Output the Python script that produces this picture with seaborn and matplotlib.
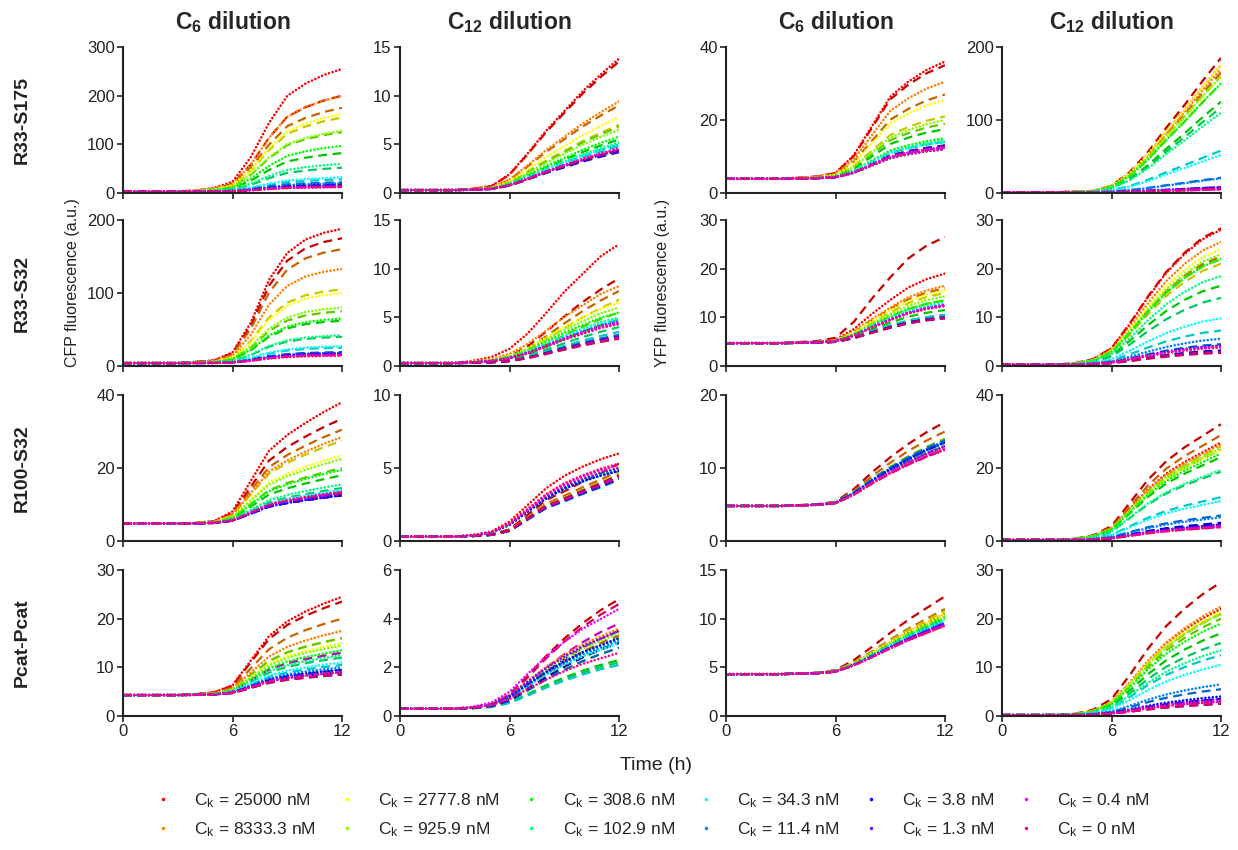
import numpy as np
import pandas as pd
import seaborn as sns
import matplotlib
matplotlib.use("Agg")
import matplotlib.pyplot as plt
import colorsys
from matplotlib.lines import Line2D

# ---------------- data ----------------
time_h = [0, 1, 2, 3, 4, 5, 6, 7, 8, 9, 10, 11, 12]
conc_labels = ["25000", "8333.3", "2777.8", "925.9", "308.6", "102.9",
               "34.3", "11.4", "3.8", "1.3", "0.4", "0"]
row_labels = ["R33-S175", "R33-S32", "R100-S32", "Pcat-Pcat"]
col_titles = [r"C$_{\mathbf{6}}$ dilution", r"C$_{\mathbf{12}}$ dilution",
              r"C$_{\mathbf{6}}$ dilution", r"C$_{\mathbf{12}}$ dilution"]
xticks = [0, 6, 12]

# Row 1: R33-S175
r33s175_c6_cfp_base = 3.0
r33s175_c6_cfp_profile = [0, 0, 0, 0, 0.01, 0.03, 0.08, 0.28, 0.56, 0.78, 0.88, 0.95, 1.0]
r33s175_c6_cfp_dotted = [255, 200, 162, 128, 97, 60, 32, 20, 16, 14, 13, 12]
r33s175_c6_cfp_dashed = [200, 175, 155, 125, 82, 52, 28, 22, 18, 16, 14, 13]
r33s175_c6_cfp_yticks = [0, 100, 200, 300]

r33s175_c12_cfp_base = 0.3
r33s175_c12_cfp_profile = [0, 0, 0, 0, 0.01, 0.03, 0.12, 0.28, 0.45, 0.60, 0.75, 0.88, 1.0]
r33s175_c12_cfp_dotted = [13.8, 9.4, 7.8, 6.5, 5.8, 5.2, 5.0, 4.5, 4.4, 4.5, 4.6, 4.5]
r33s175_c12_cfp_dashed = [13.5, 9.0, 7.0, 6.8, 5.5, 5.0, 4.8, 4.3, 4.2, 4.3, 4.4, 4.4]
r33s175_c12_cfp_yticks = [0, 5, 10, 15]

r33s175_c6_yfp_base = 3.9
r33s175_c6_yfp_profile = [0, 0, 0, 0, 0.01, 0.02, 0.05, 0.20, 0.45, 0.70, 0.83, 0.93, 1.0]
r33s175_c6_yfp_dotted = [36, 30.5, 25.5, 20, 15, 14.5, 14, 12.5, 12, 12.5, 12.5, 12]
r33s175_c6_yfp_dashed = [35, 27, 21, 19, 17.5, 14, 13, 13, 12.5, 13, 12.5, 12.5]
r33s175_c6_yfp_yticks = [0, 20, 40]

r33s175_c12_yfp_base = 1.0
r33s175_c12_yfp_profile = [0, 0, 0, 0, 0.005, 0.01, 0.05, 0.15, 0.30, 0.48, 0.65, 0.83, 1.0]
r33s175_c12_yfp_dotted = [175, 170, 175, 160, 150, 110, 52, 20, 8, 7, 5, 5]
r33s175_c12_yfp_dashed = [185, 165, 160, 150, 125, 117, 58, 21, 7, 8, 6, 5]
r33s175_c12_yfp_yticks = [0, 100, 200]

# Row 2: R33-S32
r33s32_c6_cfp_base = 4.0
r33s32_c6_cfp_profile = [0, 0, 0, 0, 0.01, 0.02, 0.08, 0.30, 0.62, 0.82, 0.92, 0.97, 1.0]
r33s32_c6_cfp_dotted = [188, 133, 100, 80, 65, 42, 27, 18, 17, 16, 15, 14]
r33s32_c6_cfp_dashed = [175, 160, 105, 75, 62, 40, 25, 19, 18, 18, 16, 15]
r33s32_c6_cfp_yticks = [0, 100, 200]

r33s32_c12_cfp_base = 0.3
r33s32_c12_cfp_profile = [0, 0, 0, 0, 0.02, 0.05, 0.12, 0.25, 0.42, 0.60, 0.75, 0.90, 1.0]
r33s32_c12_cfp_dashed_profile = [0, 0, 0, 0, 0.01, 0.03, 0.08, 0.20, 0.37, 0.55, 0.72, 0.87, 1.0]
r33s32_c12_cfp_dotted = [12.5, 8.2, 6.5, 6.0, 5.5, 5.0, 4.8, 4.6, 4.5, 4.4, 4.5, 4.3]
r33s32_c12_cfp_dashed = [9.0, 7.7, 6.8, 5.5, 4.8, 4.0, 3.5, 3.2, 3.0, 3.0, 2.9, 2.8]
r33s32_c12_cfp_yticks = [0, 5, 10, 15]

r33s32_c6_yfp_base = 4.7
r33s32_c6_yfp_profile = [0, 0, 0, 0, 0.01, 0.02, 0.05, 0.20, 0.42, 0.62, 0.80, 0.92, 1.0]
r33s32_c6_yfp_dotted = [19, 16.5, 15.5, 14.3, 13.5, 13, 12.8, 12.5, 12.5, 12.5, 12.5, 12.3]
r33s32_c6_yfp_dashed = [26.5, 16, 15, 13.5, 11.5, 10.5, 10.5, 10, 10, 10, 9.8, 9.8]
r33s32_c6_yfp_yticks = [0, 10, 20, 30]

r33s32_c12_yfp_base = 0.3
r33s32_c12_yfp_profile = [0, 0, 0, 0, 0.01, 0.04, 0.12, 0.30, 0.50, 0.68, 0.82, 0.93, 1.0]
r33s32_c12_yfp_dotted = [28, 25.5, 24, 23, 22, 18.5, 9.8, 5.6, 4.2, 4.0, 4.0, 3.8]
r33s32_c12_yfp_dashed = [28.3, 22.5, 21, 22, 16.5, 14, 7.3, 4.5, 3.2, 3.0, 2.8, 2.7]
r33s32_c12_yfp_yticks = [0, 10, 20, 30]

# Row 3: R100-S32
r100s32_c6_cfp_base = 4.8
r100s32_c6_cfp_profile = [0, 0, 0, 0, 0.005, 0.02, 0.10, 0.35, 0.60, 0.73, 0.83, 0.92, 1.0]
r100s32_c6_cfp_dotted = [38, 28.5, 23.5, 22.5, 19.5, 15.5, 14, 13, 12.5, 13, 13.5, 13.5]
r100s32_c6_cfp_dashed = [33.5, 30.5, 27.5, 20, 18, 14.5, 13.5, 12.5, 12.5, 12.5, 13, 13]
r100s32_c6_cfp_yticks = [0, 20, 40]

r100s32_c12_cfp_base = 0.3
r100s32_c12_cfp_profile = [0, 0, 0, 0, 0.02, 0.06, 0.18, 0.38, 0.58, 0.73, 0.84, 0.93, 1.0]
r100s32_c12_cfp_dashed_profile = [0, 0, 0, 0, 0.01, 0.03, 0.10, 0.30, 0.50, 0.62, 0.75, 0.87, 1.0]
r100s32_c12_cfp_dotted = [6.0, 5.2, 5.0, 5.0, 4.9, 4.9, 4.8, 4.8, 4.8, 5.0, 5.2, 5.3]
r100s32_c12_cfp_dashed = [5.3, 4.8, 4.6, 4.5, 4.4, 4.3, 4.2, 4.2, 4.3, 4.3, 4.4, 4.5]
r100s32_c12_cfp_yticks = [0, 5, 10]

r100s32_c6_yfp_base = 4.8
r100s32_c6_yfp_profile = [0, 0, 0, 0, 0.01, 0.02, 0.05, 0.20, 0.40, 0.58, 0.74, 0.88, 1.0]
r100s32_c6_yfp_dotted = [12.8, 13, 13, 13, 13, 13.5, 13.5, 13.7, 13.5, 13, 12.7, 12.5]
r100s32_c6_yfp_dashed = [16.3, 15, 14, 14, 13.5, 13.5, 13.5, 13.8, 13.5, 13, 12.5, 12.5]
r100s32_c6_yfp_yticks = [0, 10, 20]

r100s32_c12_yfp_base = 0.3
r100s32_c12_yfp_profile = [0, 0, 0, 0, 0.01, 0.04, 0.12, 0.32, 0.52, 0.68, 0.80, 0.90, 1.0]
r100s32_c12_yfp_dotted = [27, 26.5, 25, 25.5, 24, 19.5, 11, 6.5, 4.5, 4.2, 4.0, 3.8]
r100s32_c12_yfp_dashed = [32, 29, 26, 25, 23, 19, 12, 7, 5, 4.5, 4.0, 3.8]
r100s32_c12_yfp_yticks = [0, 20, 40]

# Row 4: Pcat-Pcat
pcat_c6_cfp_base = 4.3
pcat_c6_cfp_profile = [0, 0, 0, 0, 0.01, 0.03, 0.10, 0.35, 0.60, 0.75, 0.85, 0.93, 1.0]
pcat_c6_cfp_dotted = [24.5, 17.5, 15, 14.5, 13.5, 12.5, 11, 10, 9.5, 9, 9, 9]
pcat_c6_cfp_dashed = [23.5, 20, 16, 16, 13, 12, 10.5, 9.5, 9, 8.5, 13, 8.5]
pcat_c6_cfp_yticks = [0, 10, 20, 30]

pcat_c12_cfp_base = 0.3
pcat_c12_cfp_profile = [0, 0, 0, 0, 0.02, 0.06, 0.17, 0.35, 0.52, 0.67, 0.80, 0.90, 1.0]
pcat_c12_cfp_dashed_profile = [0, 0, 0, 0, 0.01, 0.04, 0.13, 0.30, 0.48, 0.64, 0.78, 0.90, 1.0]
pcat_c12_cfp_dotted = [3.5, 3.6, 3.5, 3.4, 3.2, 3.0, 3.0, 3.1, 3.2, 3.5, 4.4, 2.6]
pcat_c12_cfp_dashed = [4.8, 3.3, 3.0, 2.8, 2.3, 2.2, 2.1, 2.8, 3.0, 3.5, 3.8, 4.6]
pcat_c12_cfp_yticks = [0, 2, 4, 6]

pcat_c6_yfp_base = 4.3
pcat_c6_yfp_profile = [0, 0, 0, 0, 0.01, 0.02, 0.05, 0.18, 0.35, 0.53, 0.70, 0.85, 1.0]
pcat_c6_yfp_dotted = [10.5, 10.5, 10.5, 10.2, 10, 9.8, 9.8, 9.6, 9.5, 9.5, 9.3, 9.3]
pcat_c6_yfp_dashed = [12.3, 11, 10.8, 10.5, 10.2, 10, 10, 9.8, 9.5, 9.5, 9.5, 9.3]
pcat_c6_yfp_yticks = [0, 5, 10, 15]

pcat_c12_yfp_base = 0.2
pcat_c12_yfp_profile = [0, 0, 0, 0, 0.01, 0.04, 0.12, 0.30, 0.50, 0.67, 0.80, 0.91, 1.0]
pcat_c12_yfp_dotted = [22, 22.5, 21.5, 21, 19, 13.5, 10.5, 6.5, 4.0, 3.5, 3.0, 3.0]
pcat_c12_yfp_dashed = [27.5, 21, 21, 20, 17, 15, 12.5, 5.5, 3.5, 3.0, 2.5, 2.5]
pcat_c12_yfp_yticks = [0, 10, 20, 30]

g = globals()
panel_grid = [
    ["r33s175_c6_cfp", "r33s175_c12_cfp", "r33s175_c6_yfp", "r33s175_c12_yfp"],
    ["r33s32_c6_cfp", "r33s32_c12_cfp", "r33s32_c6_yfp", "r33s32_c12_yfp"],
    ["r100s32_c6_cfp", "r100s32_c12_cfp", "r100s32_c6_yfp", "r100s32_c12_yfp"],
    ["pcat_c6_cfp", "pcat_c12_cfp", "pcat_c6_yfp", "pcat_c12_yfp"],
]

# ---------------- long table ----------------
records = []
for r, row in enumerate(panel_grid):
    for c, key in enumerate(row):
        base = g[key + "_base"]
        for rep in ("dotted", "dashed"):
            prof = g.get(key + "_" + rep + "_profile", g[key + "_profile"])
            ends = g[key + "_" + rep]
            for ci, conc in enumerate(conc_labels):
                for t, p in zip(time_h, prof):
                    records.append(dict(panel=key, rep=rep, conc=conc, time=t,
                                        value=base + (ends[ci] - base) * p))
df = pd.DataFrame(records)

# ---------------- styling ----------------
sns.set_style("ticks")
plt.rcParams["font.family"] = ["Liberation Sans", "DejaVu Sans"]
plt.rcParams["mathtext.fontset"] = "custom"
plt.rcParams["mathtext.rm"] = "Liberation Sans"
plt.rcParams["mathtext.bf"] = "Liberation Sans:bold"
plt.rcParams["mathtext.it"] = "Liberation Sans:italic"

bright = [colorsys.hsv_to_rgb(i / 12, 1.0, 1.0) for i in range(12)]
dark = [colorsys.hsv_to_rgb(i / 12, 1.0, 0.78) for i in range(12)]
pal_bright = dict(zip(conc_labels, bright))
pal_dark = dict(zip(conc_labels, dark))

W, H = 1238, 850
fig = plt.figure(figsize=(W / 100, H / 100), dpi=100)
col_left = [123, 400, 726, 1002]
row_top = [47, 220, 395, 570]
aw, ah = 219, 146
ink = "#222222"

for r, row in enumerate(panel_grid):
    for c, key in enumerate(row):
        ax = fig.add_axes([col_left[c] / W, 1 - (row_top[r] + ah) / H, aw / W, ah / H])
        sub = df[df.panel == key]
        sns.lineplot(data=sub[sub.rep == "dashed"], x="time", y="value", hue="conc",
                     hue_order=conc_labels, palette=pal_dark, estimator=None,
                     errorbar=None, legend=False, ax=ax, linewidth=1.6)
        n0 = len(ax.lines)
        for ln in ax.lines:
            ln.set_dashes((4, 2.5))
        sns.lineplot(data=sub[sub.rep == "dotted"], x="time", y="value", hue="conc",
                     hue_order=conc_labels, palette=pal_bright, estimator=None,
                     errorbar=None, legend=False, ax=ax, linewidth=1.9)
        for ln in ax.lines[n0:]:
            ln.set_dashes((0.01, 1.4))
            ln.set_dash_capstyle("round")
        yt = g[key + "_yticks"]
        ax.set_xlim(0, 12)
        ax.set_ylim(0, yt[-1])
        ax.set_xticks(xticks)
        ax.set_yticks(yt)
        ax.set_xlabel("")
        ax.set_ylabel("")
        for s in ("top", "right"):
            ax.spines[s].set_visible(False)
        for s in ("left", "bottom"):
            ax.spines[s].set_color(ink)
            ax.spines[s].set_linewidth(1.5)
        ax.tick_params(axis="both", labelsize=12, colors=ink, length=4, width=1.2,
                       direction="out", pad=2)
        if r < 3:
            ax.tick_params(axis="x", labelbottom=False)
        if r == 0:
            ax.set_title(col_titles[c], fontsize=16.5, fontweight="bold", pad=13)
        if c == 0:
            fig.text(22 / W, 1 - (row_top[r] + ah / 2) / H, row_labels[r],
                     rotation=90, ha="center", va="center", fontsize=14,
                     fontweight="bold", color=ink)

fig.text(72 / W, 1 - 283 / H, "CFP fluorescence (a.u.)", rotation=90,
         ha="center", va="center", fontsize=11.5, color=ink)
fig.text(662 / W, 1 - 283 / H, "YFP fluorescence (a.u.)", rotation=90,
         ha="center", va="center", fontsize=11.5, color=ink)
fig.text(656 / W, 1 - 765 / H, "Time (h)", ha="center", va="center",
         fontsize=14, color=ink)

handles = [Line2D([], [], linestyle="", marker="o", markersize=2.5,
                  markeredgewidth=0, color=col) for col in bright]
labels = [r"C$_{\mathrm{k}}$ = " + c + " nM" for c in conc_labels]
fig.legend(handles, labels, ncol=6, loc="center", bbox_to_anchor=(652 / W, 1 - 815 / H),
           frameon=False, fontsize=12.5, columnspacing=1.3, handletextpad=1.3,
           labelspacing=0.6, handlelength=1.0)

fig.savefig("out.png", dpi=100, facecolor="white")
